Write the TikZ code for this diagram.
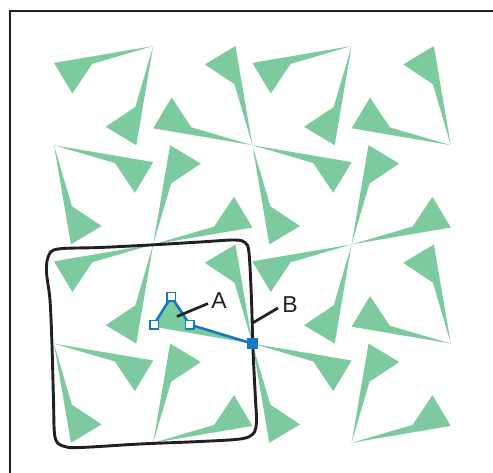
\documentclass[tikz,border=0pt]{standalone}
\usepackage{fontspec}
\setmainfont{Liberation Sans}
\definecolor{dartgreen}{RGB}{125,202,158}
\definecolor{selblue}{RGB}{18,122,196}
\definecolor{inkblack}{RGB}{35,31,32}
\tikzset{
  dartfill/.style={fill=dartgreen},
  framepen/.style={draw=inkblack,line width=2.6pt},
  wobble/.style={draw=inkblack,line width=2.9pt,line join=round},
  leader/.style={draw=inkblack,line width=2.7pt},
  selpath/.style={draw=selblue,line width=2.6pt,line join=round},
  handle/.style={draw=selblue,fill=white,line width=1.5pt,minimum size=8.5pt,inner sep=0pt,rectangle},
  handlefull/.style={draw=selblue,fill=selblue,line width=1.3pt,minimum size=9pt,inner sep=0pt,rectangle},
  lbl/.style={font=\fontsize{23}{27}\selectfont,text=inkblack,inner sep=0pt}
}
% #1,#2: lattice corner; #3,#4: direction signs into the cell
\newcommand{\dartpair}[4]{%
  \pgfmathsetmacro\tx{54+#1*99.2}%
  \pgfmathsetmacro\ty{46+#2*99.2}%
  \fill[dartfill] (\tx,\ty) -- ({\tx+(#3)*99.2},{\ty+(#4)*16.9}) -- ({\tx+(#3)*80.8},{\ty+(#4)*47.6}) -- ({\tx+(#3)*61},{\ty+(#4)*17.9}) -- cycle;
  \fill[dartfill] (\tx,\ty) -- ({\tx+(#3)*16.9},{\ty+(#4)*99.2}) -- ({\tx+(#3)*47.6},{\ty+(#4)*80.8}) -- ({\tx+(#3)*17.9},{\ty+(#4)*61}) -- cycle;
}
\begin{document}
\begin{tikzpicture}[x=1pt,y=-1pt]
\useasboundingbox (0,0) rectangle (493,472);
\clip (0,0) rectangle (493,472);
% frame
\draw[framepen] (10,490) -- (10,11) -- (510,11);
% darts
\dartpair{1}{0}{-1}{1}
\dartpair{2}{1}{-1}{-1}
\dartpair{3}{0}{-1}{1}
\dartpair{4}{1}{-1}{-1}
\dartpair{0}{1}{1}{1}
\dartpair{1}{2}{1}{-1}
\dartpair{2}{1}{1}{1}
\dartpair{3}{2}{1}{-1}
\dartpair{1}{2}{-1}{1}
\dartpair{2}{3}{-1}{-1}
\dartpair{3}{2}{-1}{1}
\dartpair{4}{3}{-1}{-1}
\dartpair{0}{3}{1}{1}
\dartpair{1}{4}{1}{-1}
\dartpair{2}{3}{1}{1}
\dartpair{3}{4}{1}{-1}
% hand-drawn selection box
\draw[wobble] plot[smooth cycle, tension=0.55] coordinates {
 (46.5,272) (48.5,256) (58,249) (100,247.5) (150,245) (200,242) (234,240)
 (245,242.5) (249,253) (251.5,300) (253,350) (255.5,400) (256.5,422) (253,434)
 (240,439) (200,441.5) (140,444) (80,447.5) (63,446) (55,437) (53.5,400)
 (52,345) (50,300)};
% selected dart outline
\coordinate (sT) at (252.4,343.6);
\coordinate (sA) at (154,324.5);
\coordinate (sB) at (171.3,296.5);
\coordinate (sC) at (189.5,324.5);
\draw[selpath] (sA) -- (sB) -- (sC) -- (sT);
% leaders and labels
\node[lbl] (labA) at (219,301) {A};
\node[lbl] (labB) at (290,304.5) {B};
\coordinate (la0) at (177,316.5);
\coordinate (la1) at (208,303.5);
\coordinate (lb0) at (252.5,323);
\coordinate (lb1) at (278,308);
\draw[leader] (la0) -- (la1);
\draw[leader] (lb0) -- (lb1);
% handles
\node[handle] (hA) at (sA) {};
\node[handle] (hB) at (sB) {};
\node[handle] (hC) at (sC) {};
\node[handlefull] (hT) at (sT) {};
\end{tikzpicture}
\end{document}
